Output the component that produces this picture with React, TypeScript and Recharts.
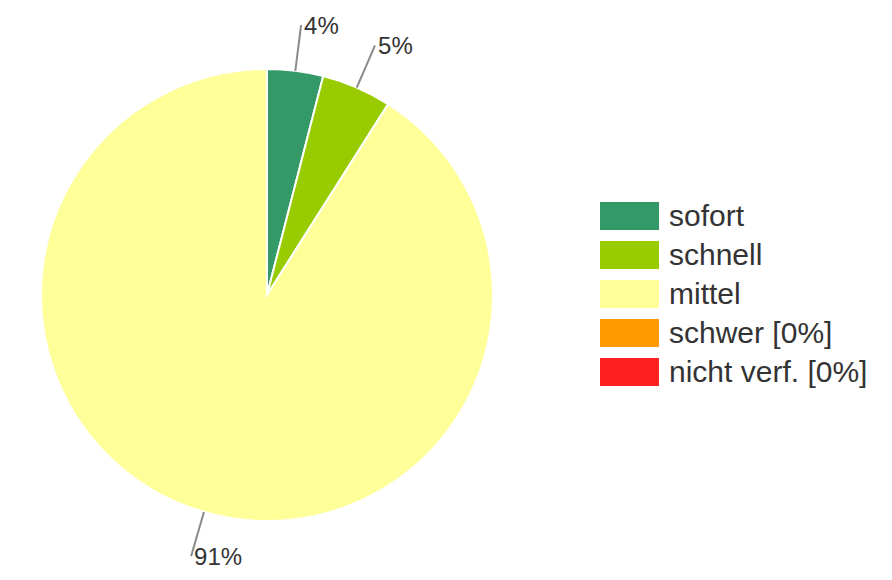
import { Legend, Pie, PieChart, Cell } from "recharts";

const categories = ["sofort", "schnell", "mittel", "schwer", "nicht verf."];
const values = [4, 5, 91, 0, 0];
const legendLabels = ["sofort", "schnell", "mittel", "schwer [0%]", "nicht verf. [0%]"];
const colours = ["#339966", "#99cc00", "#ffff99", "#ff9900", "#ff2020"];

const data = categories.map((name, i) => ({ name, value: values[i] }));

const RADIAN = Math.PI / 180;

function renderLabel(props: any) {
  const { cx, cy, midAngle, outerRadius, percent, value } = props;
  if (!value) return null;
  const cos = Math.cos(-midAngle * RADIAN);
  const sin = Math.sin(-midAngle * RADIAN);
  const sx = cx + outerRadius * cos;
  const sy = cy + outerRadius * sin;
  const ex = cx + (outerRadius + 46) * cos;
  const ey = cy + (outerRadius + 46) * sin;
  return (
    <g>
      <line x1={sx} y1={sy} x2={ex} y2={ey} stroke="#8a8a8a" strokeWidth={2} />
      <text
        x={ex + 3}
        y={ey}
        fill="#333333"
        fontSize={24}
        fontFamily="Liberation Sans, Arial, sans-serif"
        textAnchor="start"
        dominantBaseline="central"
      >
        {Math.round(percent * 100)}%
      </text>
    </g>
  );
}

function LegendBox() {
  return (
    <div style={{ fontFamily: "Liberation Sans, Arial, sans-serif" }}>
      {legendLabels.map((label, i) => (
        <div
          key={label}
          style={{ display: "flex", alignItems: "center", height: 39 }}
        >
          <div
            style={{
              width: 59,
              height: 28,
              background: colours[i],
              marginRight: 10,
            }}
          />
          <span style={{ fontSize: 30, color: "#333333", lineHeight: "28px" }}>
            {label}
          </span>
        </div>
      ))}
    </div>
  );
}

export default function App() {
  return (
    <div style={{ position: "absolute", left: 0, top: 0 }}>
      <PieChart width={892} height={580}>
        <Pie
          data={data}
          dataKey="value"
          nameKey="name"
          cx={262}
          cy={290}
          outerRadius={226}
          startAngle={90}
          endAngle={-270}
          stroke="#ffffff"
          strokeWidth={2}
          label={renderLabel}
          labelLine={false}
          isAnimationActive={false}
        >
          {data.map((_, i) => (
            <Cell key={i} fill={colours[i]} />
          ))}
        </Pie>
        <Legend
          content={<LegendBox />}
          wrapperStyle={{ left: 600, top: 196, width: 290, bottom: "auto", right: "auto" }}
        />
      </PieChart>
    </div>
  );
}
